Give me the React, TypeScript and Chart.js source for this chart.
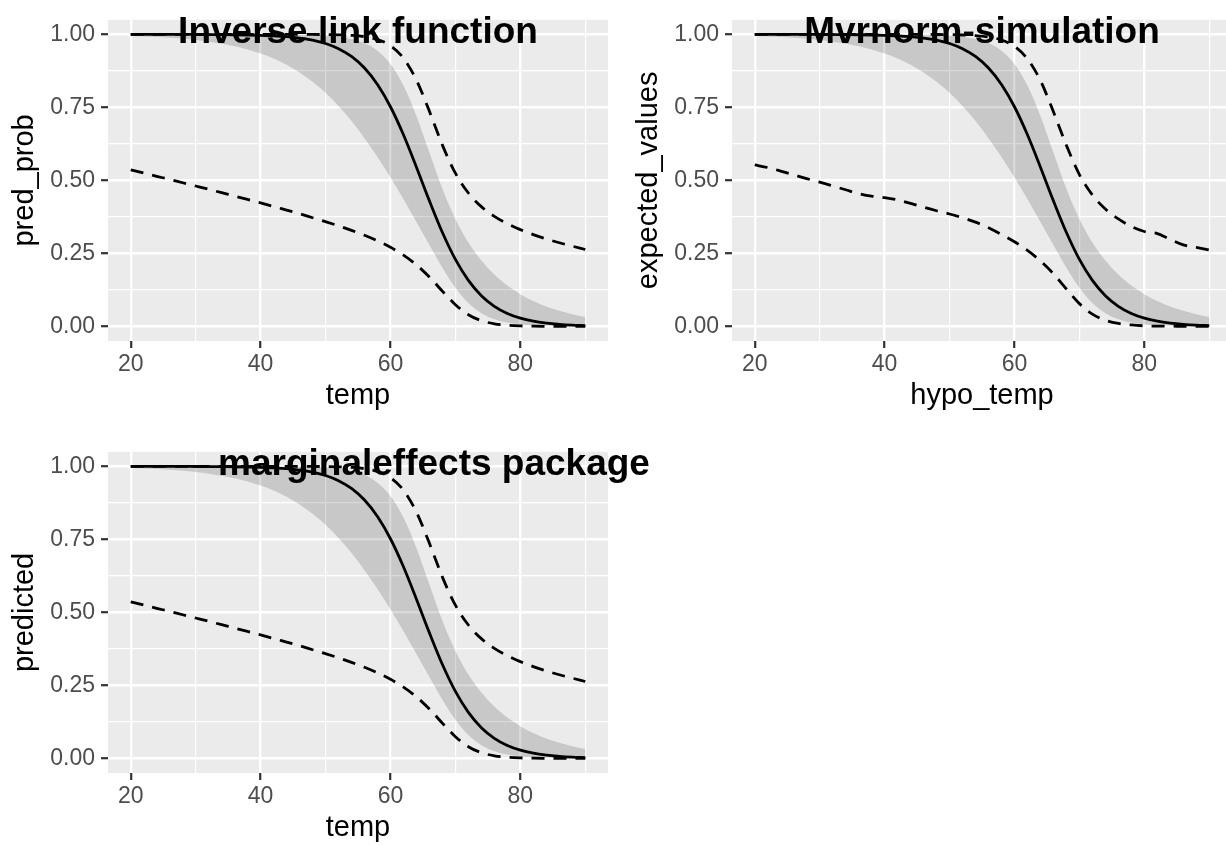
import { useEffect, useRef } from "react";
import { Chart, registerables } from "chart.js";

Chart.register(...registerables);

// Temperature grid shared by every curve
const temps = [20, 22, 24, 26, 28, 30, 32, 34, 36, 38, 40, 42, 44, 46, 48, 50, 52, 54, 56, 58, 60, 62, 64, 66, 68, 70, 72, 74, 76, 78, 80, 82, 84, 86, 88, 90];

// Fitted probability of failure
const fitProb = [1.0, 0.9999, 0.9999, 0.9999, 0.9998, 0.9997, 0.9995, 0.9992, 0.9988, 0.998, 0.9968, 0.995, 0.9921, 0.9874, 0.9801, 0.9687, 0.9512, 0.9244, 0.8849, 0.8285, 0.7522, 0.6562, 0.5454, 0.4299, 0.3215, 0.2295, 0.1577, 0.1053, 0.0689, 0.0444, 0.0284, 0.018, 0.0114, 0.0072, 0.0045, 0.0029];

// Shaded band (fit +/- one standard error on the link scale)
const bandLow = [0.9943, 0.9927, 0.9907, 0.9881, 0.9847, 0.9805, 0.9751, 0.9682, 0.9595, 0.9484, 0.9346, 0.9174, 0.896, 0.8697, 0.8379, 0.7998, 0.755, 0.7032, 0.6447, 0.5798, 0.5097, 0.4354, 0.3579, 0.2787, 0.2011, 0.1324, 0.08, 0.0454, 0.0247, 0.0131, 0.0068, 0.0035, 0.0018, 0.0009, 0.0005, 0.0002];
const bandHigh = [1.0, 1.0, 1.0, 1.0, 1.0, 1.0, 1.0, 1.0, 1.0, 1.0, 0.9999, 0.9997, 0.9994, 0.9989, 0.9979, 0.9958, 0.9919, 0.9844, 0.9702, 0.9442, 0.8987, 0.8254, 0.7209, 0.5953, 0.4715, 0.3676, 0.2872, 0.2256, 0.1777, 0.14, 0.1102, 0.0866, 0.0679, 0.0532, 0.0417, 0.0325];

// 95% interval (dashed)
const ciLow = [0.5359, 0.5251, 0.514, 0.5034, 0.492, 0.4808, 0.4696, 0.4579, 0.4464, 0.4347, 0.4229, 0.4108, 0.3982, 0.3857, 0.3722, 0.3587, 0.3445, 0.3288, 0.3119, 0.293, 0.2709, 0.2442, 0.2108, 0.169, 0.1206, 0.0744, 0.04, 0.0195, 0.009, 0.004, 0.0017, 0.0007, 0.0003, 0.0001, 0.0001, 0.0];
const ciHigh = [1.0, 1.0, 1.0, 1.0, 1.0, 1.0, 1.0, 1.0, 1.0, 1.0, 1.0, 1.0, 1.0, 0.9999, 0.9998, 0.9994, 0.9986, 0.9967, 0.9924, 0.9826, 0.9613, 0.9186, 0.8435, 0.7365, 0.6208, 0.5247, 0.4568, 0.4101, 0.3768, 0.3516, 0.3313, 0.3143, 0.2995, 0.2865, 0.2747, 0.2634];

// 95% interval from the multivariate-normal simulation (dashed)
const simLow = [0.553, 0.544, 0.532, 0.519, 0.506, 0.494, 0.481, 0.468, 0.455, 0.446, 0.441, 0.433, 0.421, 0.408, 0.396, 0.385, 0.372, 0.357, 0.338, 0.315, 0.29, 0.26, 0.224, 0.18, 0.128, 0.078, 0.042, 0.021, 0.01, 0.005, 0.002, 0.001, 0.001, 0.0, 0.0, 0.0];
const simHigh = [1.0, 1.0, 1.0, 1.0, 1.0, 1.0, 1.0, 1.0, 1.0, 1.0, 1.0, 1.0, 1.0, 0.9999, 0.9997, 0.9993, 0.998, 0.996, 0.991, 0.981, 0.959, 0.916, 0.842, 0.735, 0.62, 0.52, 0.45, 0.402, 0.368, 0.342, 0.325, 0.318, 0.298, 0.279, 0.271, 0.262];

// Axis breaks (major + minor)
const xBreaks = [20, 30, 40, 50, 60, 70, 80, 90];
const yBreaks = [0, 0.125, 0.25, 0.375, 0.5, 0.625, 0.75, 0.875, 1];

const FONT = "'Liberation Sans', Arial, Helvetica, sans-serif";
const CANVAS_H = 432;
const PLOT_RIGHT = 608;

const isMajorX = (v: number) => v % 20 === 0;
const isMajorY = (v: number) => Math.abs(v * 4 - Math.round(v * 4)) < 1e-9;

type Series = { fit: number[]; bLo: number[]; bHi: number[]; dLo: number[]; dHi: number[] };

const panelBackground = {
  id: "panelBackground",
  beforeDraw(chart: any) {
    const { ctx, chartArea } = chart;
    ctx.save();
    ctx.fillStyle = "#EBEBEB";
    ctx.fillRect(chartArea.left, chartArea.top, chartArea.right - chartArea.left, chartArea.bottom - chartArea.top);
    ctx.restore();
  },
};

function headline(text: string, atX: number) {
  return {
    id: "headline",
    afterDraw(chart: any) {
      const { ctx, scales } = chart;
      ctx.save();
      ctx.font = `bold 37px ${FONT}`;
      ctx.fillStyle = "#000000";
      ctx.textAlign = "center";
      ctx.textBaseline = "middle";
      ctx.fillText(text, scales.x.getPixelForValue(atX), scales.y.getPixelForValue(1) - 2);
      ctx.restore();
    },
  };
}

function Panel(props: {
  left: number;
  top: number;
  width: number;
  title: string;
  titleAt: number;
  xTitle: string;
  yTitle: string;
  series: Series;
}) {
  const ref = useRef<HTMLCanvasElement>(null);
  const { left, top, width, title, titleAt, xTitle, yTitle, series } = props;

  useEffect(() => {
    const canvas = ref.current;
    if (!canvas) return;
    const pts = (vals: number[]) => temps.map((t, i) => ({ x: t, y: vals[i] }));
    const curve = (vals: number[], dashed: boolean) => ({
      data: pts(vals),
      borderColor: "#000000",
      borderWidth: 2.8,
      borderDash: dashed ? [13, 9] : [],
      pointRadius: 0,
      fill: false,
      cubicInterpolationMode: "monotone" as const,
      order: dashed ? 1 : 0,
    });

    const chart = new Chart(canvas, {
      type: "line",
      data: {
        datasets: [
          curve(series.fit, false),
          curve(series.dLo, true),
          curve(series.dHi, true),
          {
            data: pts(series.bHi),
            borderColor: "rgba(0,0,0,0)",
            borderWidth: 0,
            backgroundColor: "rgba(0,0,0,0.15)",
            fill: "+1",
            pointRadius: 0,
            cubicInterpolationMode: "monotone",
            order: 5,
          },
          {
            data: pts(series.bLo),
            borderColor: "rgba(0,0,0,0)",
            borderWidth: 0,
            fill: false,
            pointRadius: 0,
            cubicInterpolationMode: "monotone",
            order: 6,
          },
        ] as any,
      },
      options: {
        animation: false,
        responsive: false,
        devicePixelRatio: 1,
        events: [],
        layout: { padding: { left: 0, top: 9, right: width - PLOT_RIGHT, bottom: 0 } },
        plugins: {
          legend: { display: false },
          tooltip: { enabled: false },
          title: { display: false },
        },
        scales: {
          x: {
            type: "linear",
            min: 16.5,
            max: 93.5,
            afterBuildTicks: (s: any) => {
              s.ticks = xBreaks.map((v) => ({ value: v }));
            },
            afterFit: (s: any) => {
              s.height = CANVAS_H - 341;
            },
            border: { display: false },
            grid: {
              color: "#FFFFFF",
              lineWidth: (c: any) => (c.tick && isMajorX(c.tick.value) ? 2.4 : 1.2),
              drawTicks: true,
              tickLength: 7,
              tickWidth: 2.2,
              tickColor: (c: any) => (c.tick && isMajorX(c.tick.value) ? "#333333" : "rgba(0,0,0,0)"),
            },
            ticks: {
              autoSkip: false,
              maxRotation: 0,
              padding: 3,
              color: "#4D4D4D",
              font: { family: FONT, size: 23 },
              callback: (v: any) => (isMajorX(Number(v)) ? String(v) : ""),
            },
            title: {
              display: true,
              text: xTitle,
              color: "#000000",
              font: { family: FONT, size: 29 },
              padding: { top: 0, bottom: 19 },
            },
          },
          y: {
            type: "linear",
            min: -0.05,
            max: 1.05,
            afterBuildTicks: (s: any) => {
              s.ticks = yBreaks.map((v) => ({ value: v }));
            },
            afterFit: (s: any) => {
              s.width = 108;
            },
            border: { display: false },
            grid: {
              color: "#FFFFFF",
              lineWidth: (c: any) => (c.tick && isMajorY(c.tick.value) ? 2.4 : 1.2),
              drawTicks: true,
              tickLength: 7,
              tickWidth: 2.2,
              tickColor: (c: any) => (c.tick && isMajorY(c.tick.value) ? "#333333" : "rgba(0,0,0,0)"),
            },
            ticks: {
              autoSkip: false,
              padding: 6,
              color: "#4D4D4D",
              font: { family: FONT, size: 23 },
              callback: (v: any) => (isMajorY(Number(v)) ? Number(v).toFixed(2) : ""),
            },
            title: {
              display: true,
              text: yTitle,
              color: "#000000",
              font: { family: FONT, size: 29 },
              padding: { top: 8, bottom: 0 },
            },
          },
        },
      } as any,
      plugins: [panelBackground, headline(title, titleAt)],
    });

    return () => chart.destroy();
  }, []);

  return (
    <canvas
      ref={ref}
      width={width}
      height={CANVAS_H}
      style={{ position: "absolute", left, top, width, height: CANVAS_H }}
    />
  );
}

const inverseLink: Series = { fit: fitProb, bLo: bandLow, bHi: bandHigh, dLo: ciLow, dHi: ciHigh };
const simulation: Series = { fit: fitProb, bLo: bandLow, bHi: bandHigh, dLo: simLow, dHi: simHigh };

export default function App() {
  return (
    <div
      style={{
        position: "absolute",
        left: 0,
        top: 0,
        width: 1226,
        height: 845,
        overflow: "hidden",
        background: "#FFFFFF",
      }}
    >
      <Panel left={0} top={0} width={624} title="Inverse link function" titleAt={55} xTitle="temp" yTitle="pred_prob" series={inverseLink} />
      <Panel left={624} top={0} width={624} title="Mvrnorm-simulation" titleAt={55} xTitle="hypo_temp" yTitle="expected_values" series={simulation} />
      <Panel left={0} top={432} width={700} title="marginaleffects package" titleAt={66.7} xTitle="temp" yTitle="predicted" series={inverseLink} />
    </div>
  );
}
